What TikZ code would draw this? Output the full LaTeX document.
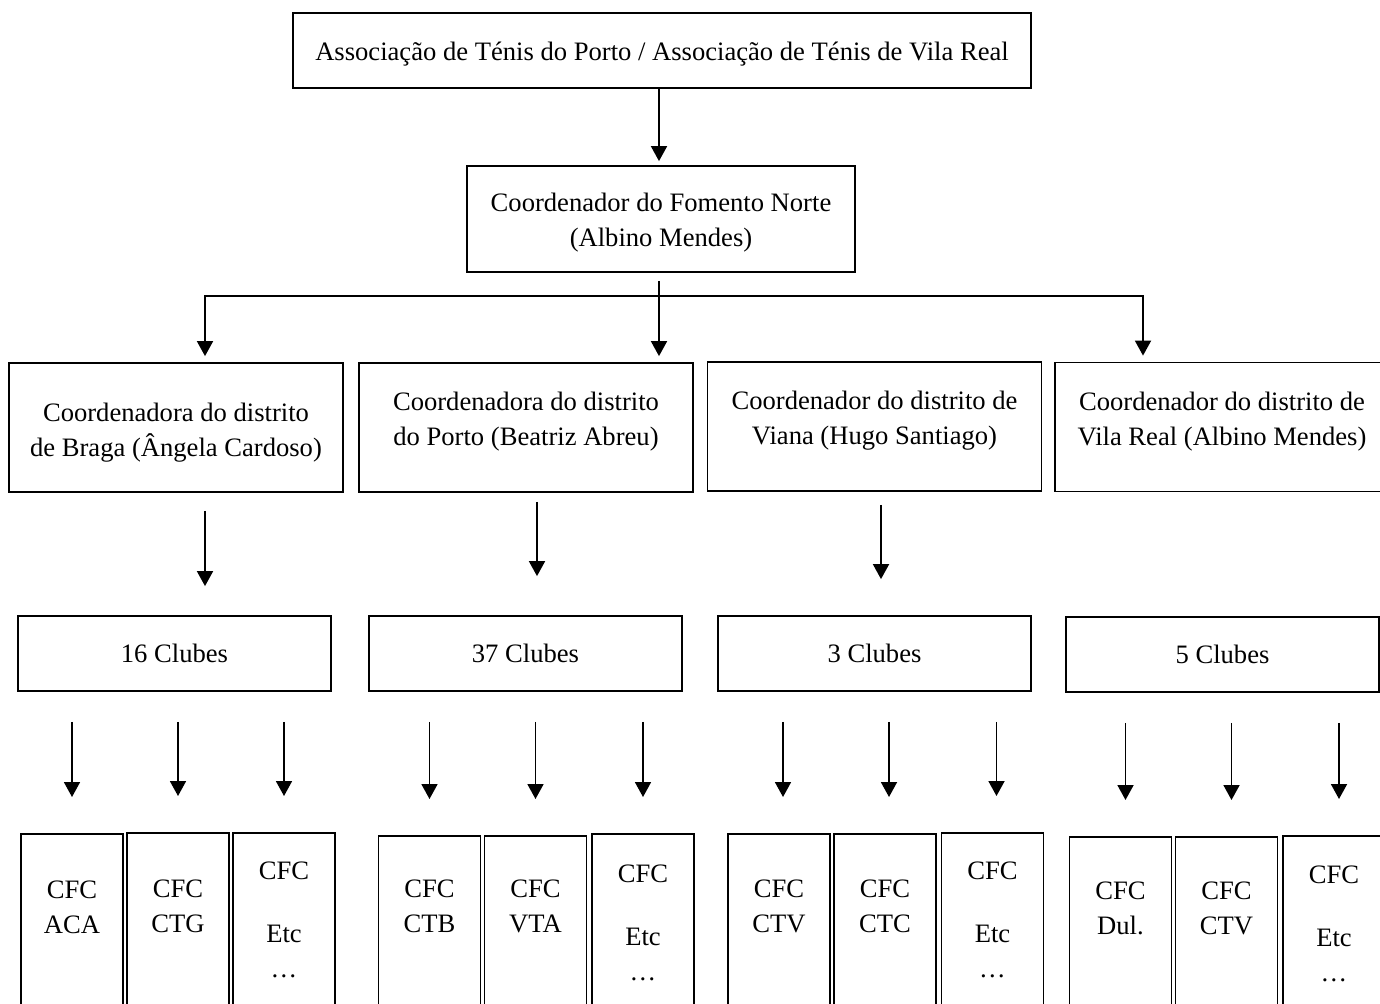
\documentclass[tikz,border=0pt]{standalone}
\usepackage{fontspec}
\setmainfont{Liberation Serif}
\usetikzlibrary{arrows.meta, positioning}

\begin{document}
\begin{tikzpicture}[
	x=0.5pt, y=-0.5pt,
	font=\fontsize{13.3}{17.5}\selectfont,
	box/.style = {draw, line width=0.9pt, align=center, inner sep=0pt},
	arr/.style = {line width=0.9pt, -{Triangle[width=8pt, length=7.5pt]}},
	dbox/.style = {box, minimum width=167pt, minimum height=64.5pt},
	cbox/.style = {box, minimum width=156.5pt, minimum height=37.5pt},
	cfc/.style = {box, anchor=north, minimum width=51pt, minimum height=120pt},
	cfctxt/.style = {anchor=north, align=center, inner sep=0pt}
     ]
		\useasboundingbox (0,0) rectangle (1380,1003);
		\clip (0,0) rectangle (1380,1003);
%
		\node[box, minimum width=369pt, minimum height=37.5pt,
		  label={[yshift=-2pt]center:Associação de Ténis do Porto / Associação de Ténis de Vila Real}] (top) at (662,50.5) {};
		\node[box, minimum width=194pt, minimum height=53pt,
		  label={[align=center, yshift=-1.75pt]center:Coordenador do Fomento Norte\\(Albino Mendes)}] (fom) at (661,219) {};
%
		\node[dbox, label={[align=center, yshift=-2.75pt]center:Coordenadora do distrito\\de Braga (Ângela Cardoso)}] (d1) at (176,427.5) {};
		\node[dbox, label={[align=center, yshift=3pt]center:Coordenadora do distrito\\do Porto (Beatriz Abreu)}] (d2) at (526,427.5) {};
		\node[dbox, label={[align=center, yshift=2.75pt]center:Coordenador do distrito de\\Viana (Hugo Santiago)}] (d3) at (874.5,426.5) {};
		\node[dbox, label={[align=center, yshift=2.75pt]center:Coordenador do distrito de\\Vila Real (Albino Mendes)}] (d4) at (1222,427) {};
%
		\node[cbox] (k1) at (174.5,653.5) {16 Clubes};
		\node[cbox] (k2) at (525.5,653.5) {37 Clubes};
		\node[cbox] (k3) at (874.5,653.5) {3 Clubes};
		\node[cbox] (k4) at (1222.5,654.5) {5 Clubes};
%
		\node[cfc, label={[cfctxt, yshift=-23.5pt]north:CFC\\ACA}] (c11) at (72,833) {};
		\node[cfc, label={[cfctxt, yshift=-23.5pt]north:CFC\\CTG}] (c12) at (178,832) {};
		\node[cfc, label={[cfctxt, yshift=-14.5pt]north:CFC\\[14pt]Etc\\…}] (c13) at (284,832) {};
		\node[cfc, label={[cfctxt, yshift=-22pt]north:CFC\\CTB}] (c21) at (429.5,835) {};
		\node[cfc, label={[cfctxt, yshift=-22pt]north:CFC\\VTA}] (c22) at (535.5,835) {};
		\node[cfc, label={[cfctxt, yshift=-15.5pt]north:CFC\\[14pt]Etc\\…}] (c23) at (643,833) {};
		\node[cfc, label={[cfctxt, yshift=-23pt]north:CFC\\CTV}] (c31) at (779,833) {};
		\node[cfc, label={[cfctxt, yshift=-23pt]north:CFC\\CTC}] (c32) at (885,833) {};
		\node[cfc, label={[cfctxt, yshift=-14.5pt]north:CFC\\[14pt]Etc\\…}] (c33) at (992.5,832) {};
		\node[cfc, label={[cfctxt, yshift=-22.5pt]north:CFC\\Dul.}] (c41) at (1120.5,836) {};
		\node[cfc, label={[cfctxt, yshift=-22.5pt]north:CFC\\CTV}] (c42) at (1226.5,836) {};
		\node[cfc, label={[cfctxt, yshift=-15pt]north:CFC\\[14pt]Etc\\…}] (c43) at (1334,835) {};
%
		\coordinate (j1) at (205,296);
		\coordinate (j2) at (659,296);
		\coordinate (j4) at (1143,296);
		\coordinate (a2) at (537,500);
		\coordinate (a3) at (881,500);
%
		\draw[arr, shorten >=2pt] (top.south -| j2) -- (fom.north -| j2);
		\draw[arr, shorten <=4pt, shorten >=3pt] (fom.south -| j2) -- (d2.north -| j2);
		\draw[arr, shorten >=3pt] (j2) -| (j1 |- d1.north);
		\draw[arr, shorten >=3pt] (j2) -| (j4 |- d4.north);
%
		\draw[arr, shorten <=9pt, shorten >=14.5pt] (j1 |- d1.south) -- (j1 |- k1.north);
		\draw[arr, shorten <=4.5pt, shorten >=19.5pt] (a2 |- d2.south) -- (a2 |- k2.north);
		\draw[arr, shorten <=6.5pt, shorten >=18pt] (a3 |- d3.south) -- (a3 |- k3.north);
%
		\foreach \g/\dx in {1/0, 2/0, 3/2, 4/2.5}
		  \foreach \i in {1,2,3}
		    \draw[arr, shorten <=15pt, shorten >=18pt]
		    ([xshift=\dx pt]k\g.south -| c\g\i) -- ([xshift=\dx pt]c\g\i.north);
\end{tikzpicture}
\end{document}
